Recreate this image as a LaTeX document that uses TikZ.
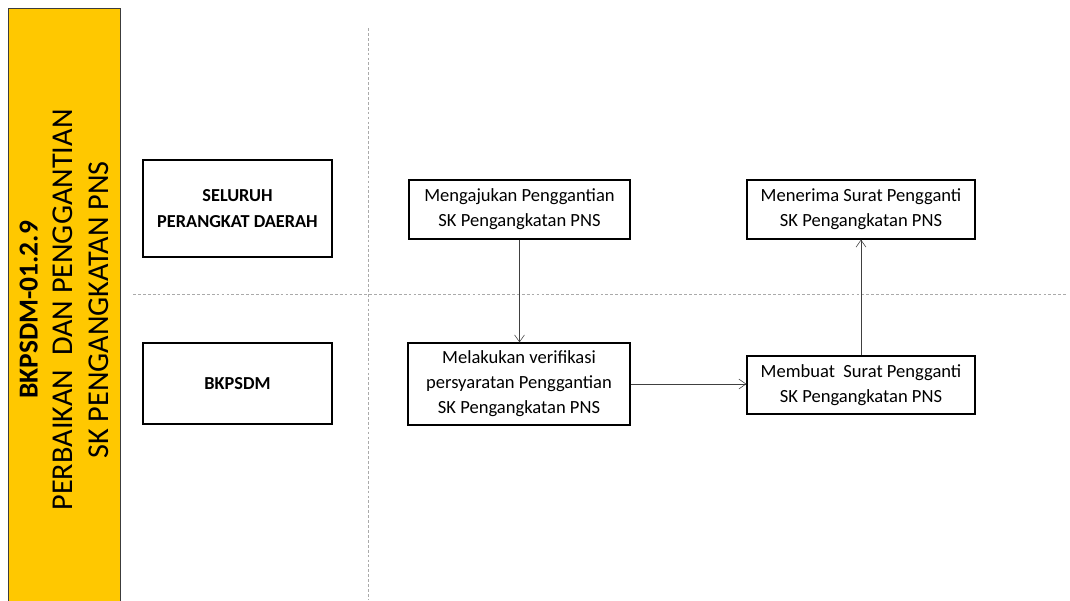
\documentclass[tikz,border=0pt]{standalone}
\usepackage{fontspec}
\setmainfont{Carlito}
\usepackage{tikz}
\usetikzlibrary{arrows.meta,positioning}
\definecolor{bkyellow}{RGB}{255,200,0}
\definecolor{bkedge}{RGB}{60,60,60}
\definecolor{lanegray}{RGB}{170,170,170}

\begin{document}
\begin{tikzpicture}[x=0.025cm,y=-0.025cm,
  procbox/.style={draw=black, thick, align=center, inner sep=2pt,
    font=\fontsize{13.2}{17.8}\selectfont},
  lanebox/.style={procbox, font=\fontsize{13}{19}\selectfont\bfseries},
  flow/.style={-{Straight Barb[length=5pt,width=7pt]}, draw=black!75}]
\useasboundingbox (0,0) rectangle (1070,600);
% Title bar
\draw[bkedge, fill=bkyellow] (8,8) rectangle (120,603);
\node[rotate=90, align=center, font=\fontsize{21.5}{25}\selectfont] (title) at (64,310)
  {{\fontsize{19.5}{25}\selectfont\bfseries BKPSDM-01.2.9}\\PERBAIKAN\ \ DAN PENGGANTIAN\\SK PENGANGKATAN PNS};
% Lane separators
\draw[lanegray, dashed, dash pattern=on 2pt off 1.5pt] (368,28) -- (368,600);
\draw[lanegray, dashed, dash pattern=on 2pt off 1.5pt] (133,294) -- (1068,294);
% Lane names
\node[lanebox, minimum width=4.725cm, minimum height=2.425cm] (daerah) at (237.5,208.5)
  {SELURUH\\PERANGKAT DAERAH};
\node[lanebox, minimum width=4.725cm, minimum height=2.025cm] (bkpsdm) at (237.5,383.5)
  {BKPSDM};
% Steps
\node[procbox, minimum width=5.525cm, minimum height=1.475cm] (ajukan) at (519.5,209.5)
  {Mengajukan Penggantian\\SK Pengangkatan PNS};
\node[procbox, minimum width=5.7cm, minimum height=1.475cm] (terima) at (861,209.5)
  {Menerima Surat Pengganti\\SK Pengangkatan PNS};
\node[procbox, minimum width=5.55cm, minimum height=2.05cm] (verif) at (519,384)
  {Melakukan verifikasi\\persyaratan Penggantian\\SK Pengangkatan PNS};
\node[procbox, minimum width=5.7cm, minimum height=1.45cm] (buat) at (861,385)
  {Membuat\ \ Surat Pengganti\\SK Pengangkatan PNS};
% Flow
\draw[flow] (ajukan.south) -- (ajukan.south |- verif.north);
\draw[flow] (verif.east) -- (verif.east -| buat.west);
\draw[flow] (buat.north) -- (buat.north |- terima.south);
\end{tikzpicture}
\end{document}
